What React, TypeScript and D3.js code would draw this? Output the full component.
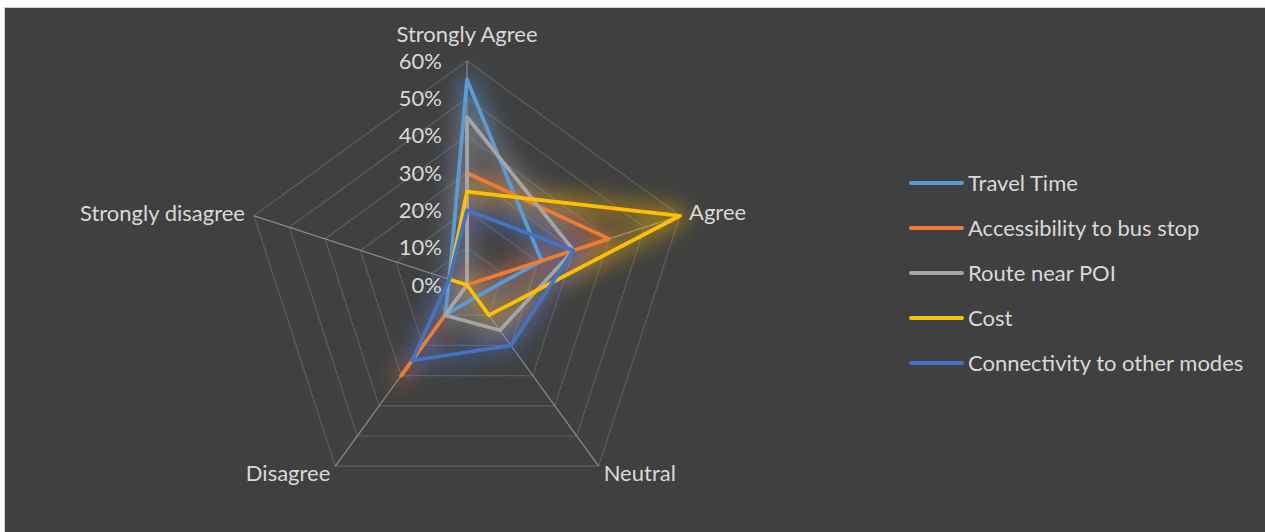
import React from 'react';
import * as d3 from 'd3';

const categories = ['Strongly Agree', 'Agree', 'Neutral', 'Disagree', 'Strongly disagree'];
const seriesNames = ['Travel Time', 'Accessibility to bus stop', 'Route near POI', 'Cost', 'Connectivity to other modes'];
const seriesColors = ['#5B9BD5', '#ED7D31', '#A5A5A5', '#FFC000', '#4472C4'];

// share of answers, in %, one array per series (same order as categories)
const travelTime = [55, 21, 4, 10, 5];
const accessibility = [30, 40, 0, 30, 0];
const routeNearPoi = [45, 30, 15, 10, 0];
const cost = [25, 60, 10, 0, 5];
const connectivity = [20, 30, 20, 25, 5];
const seriesValues = [travelTime, accessibility, routeNearPoi, cost, connectivity];

const tickValues = [0, 10, 20, 30, 40, 50, 60];

const W = 1265;
const H = 532;
const cx = 467;
const cy = 285;
const R = 224;

const TEXT = '#d9d9d9';
const FONT = 'Lato, "Open Sans", sans-serif';
const FS = 22;

const App: React.FC = () => {
  const r = d3.scaleLinear().domain([0, 60]).range([0, R]);
  const angle = d3
    .scaleLinear()
    .domain([0, categories.length])
    .range([0, 2 * Math.PI]);

  const pt = (i: number, v: number): [number, number] => {
    const a = angle(i) - Math.PI / 2;
    return [cx + r(v) * Math.cos(a), cy + r(v) * Math.sin(a)];
  };

  const closed = d3.line<[number, number]>().curve(d3.curveLinearClosed);

  const rings = tickValues.slice(1).map((t) => closed(categories.map((_, i) => pt(i, t))) as string);
  const paths = seriesValues.map((vals) => closed(vals.map((v, i) => pt(i, v))) as string);

  // category label placement
  const labelPos = [
    { dx: 0, dy: -27, anchor: 'middle' },
    { dx: 9, dy: -3, anchor: 'start' },
    { dx: 5, dy: 7, anchor: 'start' },
    { dx: -5, dy: 7, anchor: 'end' },
    { dx: -9, dy: -2, anchor: 'end' },
  ];

  const legendY = d3.scaleLinear().domain([0, 1]).range([183, 228]);

  return (
    <div style={{ position: 'fixed', left: 0, top: 0, width: W, height: H, background: '#fff' }}>
      <svg width={W} height={H} style={{ display: 'block' }}>
        <defs>
          <filter id="glow" filterUnits="userSpaceOnUse" x={0} y={0} width={W} height={H}>
            <feGaussianBlur stdDeviation={11} />
          </filter>
        </defs>
        <rect x={4.5} y={7.5} width={W} height={H} fill="#404040" stroke="#d0d0d0" strokeWidth={1} />

        {rings.map((d, i) => (
          <path key={`ring${i}`} d={d} fill="none" stroke="#5c5c5c" strokeWidth={1.2} />
        ))}
        {categories.map((c, i) => {
          const [x, y] = pt(i, 60);
          return <line key={`spoke${c}`} x1={cx} y1={cy} x2={x} y2={y} stroke="#8c8c8c" strokeWidth={1.2} />;
        })}

        <g filter="url(#glow)" opacity={0.5}>
          {paths.map((d, i) => (
            <path key={`g${i}`} d={d} fill="none" stroke={seriesColors[i]} strokeWidth={15} strokeLinejoin="round" />
          ))}
        </g>

        {paths.map((d, i) => (
          <path key={`s${i}`} d={d} fill="none" stroke={seriesColors[i]} strokeWidth={3.75} strokeLinejoin="round" />
        ))}

        {tickValues.map((t) => (
          <text
            key={`t${t}`}
            x={cx - 25}
            y={cy - r(t)}
            dy="0.35em"
            textAnchor="end"
            fill={TEXT}
            fontFamily={FONT}
            fontSize={FS}
          >
            {`${t}%`}
          </text>
        ))}

        {categories.map((c, i) => {
          const [x, y] = pt(i, 60);
          const p = labelPos[i];
          return (
            <text
              key={`c${c}`}
              x={x + p.dx}
              y={y + p.dy}
              dy="0.35em"
              textAnchor={p.anchor}
              fill={TEXT}
              fontFamily={FONT}
              fontSize={FS}
            >
              {c}
            </text>
          );
        })}

        {seriesNames.map((n, i) => {
          const y = legendY(i);
          return (
            <g key={`l${n}`}>
              <line x1={911} x2={962} y1={y} y2={y} stroke={seriesColors[i]} strokeWidth={4} strokeLinecap="round" />
              <text x={968} y={y} dy="0.35em" fill={TEXT} fontFamily={FONT} fontSize={FS}>
                {n}
              </text>
            </g>
          );
        })}
      </svg>
    </div>
  );
};

export default App;
